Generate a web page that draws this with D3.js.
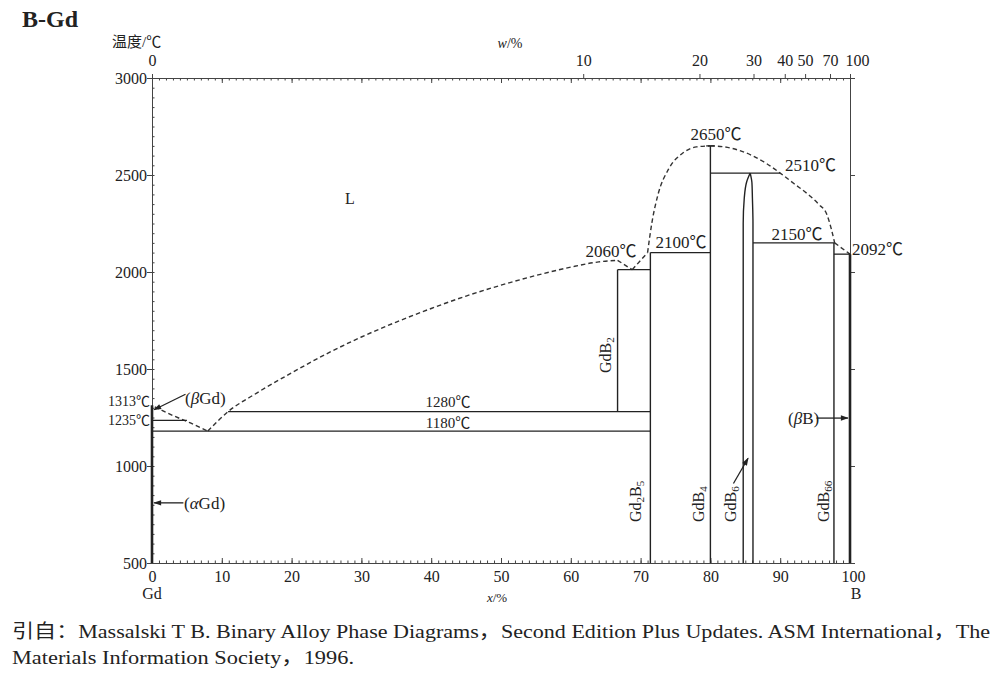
<!DOCTYPE html>
<html><head><meta charset="utf-8">
<script src="https://cdn.jsdelivr.net/npm/d3@7"></script>
<style>
body{margin:0;background:#fff;}
text{font-family:"Liberation Serif","Times New Roman",serif;fill:#222;}
</style></head>
<body><svg id="c" width="1000" height="675"></svg>
<script>
// ---------- data ----------
const atTicksMajor = [0,10,20,30,40,50,60,70,80,90,100];
const tempTicks = [500,1000,1500,2000,2500,3000];
const wtTicks = [0,10,20,30,40,50,70,100];
const M_B = 10.81, M_Gd = 157.25;

// liquidus branches [x at.% B, T °C]
const liqGdSide = [[0.4,1305],[3,1260],[5.5,1222],[8,1180]];
const liqGdB2 = [[8,1180],[10.9,1280],[15,1376],[20,1480],[25,1578],[30,1665],[35,1742],[40,1812],[45,1876],[50,1932],[55,1982],[60,2025],[64,2052],[66.7,2060]];
const liqEut = [[66.7,2060],[68.8,2012]];
const liqGd2B5 = [[68.8,2012],[71.0,2100]];
const liqGdB4L = [[71.0,2100],[71.6,2250],[72.5,2400],[74,2530],[76,2612],[78,2645],[80,2650]];
const liqGdB4R = [[80,2650],[82,2645],[84,2628],[86,2600],[88,2560],[90,2510],[92,2455],[94,2400],[95.5,2350],[96.7,2295],[97.3,2225],[97.8,2150]];
const liqB = [[97.8,2150],[100,2092]];

// invariant horizontals [x1,x2,T]
const horizontals = [[0,5,1235],[10.9,71.4,1280],[0,71.4,1180],[66.7,71.4,2012],[71.4,80,2100],[80,90,2510],[86.1,97.8,2150],[97.7,100,2092],[79.4,80.6,2650]];
// compounds [x, Tbottom, Ttop]
const compounds = [[66.7,1280,2012],[71.4,500,2100],[80,500,2650],[97.7,500,2150]];
const gdb6Left = [[84.7,500],[84.7,2250],[84.85,2380],[85.2,2465],[85.7,2510]];
const gdb6Right = [[86.1,500],[86.1,2250],[86.02,2380],[85.95,2460],[85.7,2510]];
const thickGd = [[0,500],[0,1313]];
const thickB = [[100,500],[100,2092]];

// ---------- scales ----------
const svg = d3.select("#c");
const x = d3.scaleLinear().domain([0,100]).range([152,850]);
const y = d3.scaleLinear().domain([500,3000]).range([563,78]);
const wtToAt = w => { if (w>=100) return 100; const a=w/M_B, b=(100-w)/M_Gd; return 100*a/(a+b); };
const line = d3.line().x(d=>x(d[0])).y(d=>y(d[1]));
const smoothX = d3.line().x(d=>x(d[0])).y(d=>y(d[1])).curve(d3.curveMonotoneX);
const smoothY = d3.line().x(d=>x(d[0])).y(d=>y(d[1])).curve(d3.curveMonotoneY);
const ink = "#222";
const SERIF = "Liberation Serif, Times New Roman, serif";
const CJK = "Noto Sans CJK SC, sans-serif";

// ---------- axes ----------
const gB = svg.append("g").attr("transform",`translate(0,${y(500)})`);
gB.call(d3.axisBottom(x).tickValues(d3.range(0,101,1)).tickSize(-2.5).tickFormat(""));
gB.call(g=>g.select(".domain").remove());
svg.append("g").attr("transform",`translate(0,${y(500)})`)
  .call(d3.axisBottom(x).tickValues(atTicksMajor).tickSizeInner(-5).tickSizeOuter(0).tickPadding(8).tickFormat(d3.format("d")))
  .call(g=>g.selectAll(".tick text").attr("dx",d=>d===100?3:0));
const gT = svg.append("g").attr("transform",`translate(0,${y(3000)})`);
gT.call(d3.axisTop(x).tickValues(d3.range(0,101,1)).tickSize(-2.5).tickFormat(""));
gT.call(g=>g.select(".domain").remove());
svg.append("g").attr("transform",`translate(0,${y(3000)})`)
  .call(d3.axisTop(x).tickValues(atTicksMajor).tickSizeInner(-5).tickSizeOuter(0).tickFormat(""));
svg.append("g").attr("transform",`translate(0,${y(3000)})`)
  .call(d3.axisTop(x).tickValues(wtTicks.map(wtToAt)).tickSizeInner(4).tickSizeOuter(0).tickPadding(8).tickFormat((d,i)=>wtTicks[i]))
  .call(g=>g.select(".domain").remove())
  .call(g=>g.selectAll(".tick text").attr("dx",(d,i)=>wtTicks[i]===100?7:0));
const gL = svg.append("g").attr("transform",`translate(${x(0)},0)`);
gL.call(d3.axisRight(y).tickValues(d3.range(500,3001,50)).tickSize(2.5).tickFormat(""));
gL.call(g=>g.select(".domain").remove());
svg.append("g").attr("transform",`translate(${x(0)},0)`)
  .call(d3.axisLeft(y).tickValues(tempTicks).tickSizeInner(5).tickSizeOuter(0).tickPadding(0).tickFormat(d3.format("d")));
const gR = svg.append("g").attr("transform",`translate(${x(100)},0)`);
gR.call(d3.axisRight(y).tickValues(d3.range(500,3001,50)).tickSize(3).tickFormat(""));
gR.call(d3.axisRight(y).tickValues(tempTicks).tickSizeInner(5).tickSizeOuter(0).tickFormat(""));
svg.selectAll(".tick text").style("font-size","16px").style("font-family",SERIF).attr("fill",ink);
svg.selectAll(".domain,.tick line").attr("stroke","#444").attr("stroke-width",1);

// ---------- phase lines ----------
const dash = {stroke:"#333","stroke-width":1.4,"stroke-dasharray":"4.5,3",fill:"none"};
function dpath(data,gen){const p=svg.append("path").attr("d",gen(data));for(const k in dash)p.attr(k,dash[k]);return p;}
dpath(liqGdSide,line);
dpath(liqGdB2,smoothX);
dpath(liqEut,line);
dpath(liqGd2B5,line);
dpath(liqGdB4L,smoothX);
dpath(liqGdB4R,smoothX);
dpath(liqB,line);

horizontals.forEach(h=>svg.append("line").attr("x1",x(h[0])).attr("x2",x(h[1])).attr("y1",y(h[2])).attr("y2",y(h[2])).attr("stroke",ink).attr("stroke-width",1.3));
compounds.forEach(c=>svg.append("line").attr("x1",x(c[0])).attr("x2",x(c[0])).attr("y1",y(c[1])).attr("y2",y(c[2])).attr("stroke",ink).attr("stroke-width",1.4));
[gdb6Left,gdb6Right].forEach(d=>svg.append("path").attr("d",smoothY(d)).attr("fill","none").attr("stroke",ink).attr("stroke-width",1.4));
[thickGd,thickB].forEach(d=>svg.append("path").attr("d",line(d)).attr("stroke",ink).attr("stroke-width",2.6));

// ---------- arrows ----------
svg.append("defs").append("marker").attr("id","ah").attr("viewBox","0 0 10 10").attr("refX",9).attr("refY",5)
  .attr("markerWidth",9).attr("markerHeight",6).attr("orient","auto-start-reverse")
  .append("path").attr("d","M0,1.5 L10,5 L0,8.5 Z").attr("fill",ink);
function arrow(x1,y1,x2,y2){svg.append("line").attr("x1",x1).attr("y1",y1).attr("x2",x2).attr("y2",y2).attr("stroke",ink).attr("stroke-width",1.3).attr("marker-end","url(#ah)");}
arrow(x(4.8),y(1370),x(0.3),y(1290));
arrow(x(4.5),y(810),x(0.3),y(810));
arrow(x(95.2),y(1247),x(99.7),y(1247));
arrow(x(83.3),y(910),x(85.4),y(1040));

// ---------- text ----------
function addRuns(sel,str){
  const re=/([\u2000-\uffff]+)|([^\u2000-\uffff]+)/g; let m;
  while((m=re.exec(str))) sel.append("tspan").text(m[0]).style("font-family",m[1]?CJK:SERIF);
}
function t(str,px,py,opt={}){
  const e=svg.append("text").attr("x",px).attr("y",py).style("font-size",(opt.size||17)+"px").attr("text-anchor",opt.anchor||"start");
  addRuns(e,str);
  if(opt.weight)e.style("font-weight",opt.weight);
  if(opt.len)e.attr("textLength",opt.len).attr("lengthAdjust","spacingAndGlyphs");
  return e;
}
function rich(parts,px,py,opt={}){
  const e=svg.append("text").attr("x",px).attr("y",py).style("font-size",(opt.size||17)+"px").attr("text-anchor",opt.anchor||"start").style("font-family",SERIF);
  if(opt.rot)e.attr("transform",`rotate(-90,${px},${py})`);
  parts.forEach(p=>{const s=e.append("tspan").text(p[0]);
    if(p[1]==="i")s.style("font-style","italic");
    if(p[1]==="sub")s.attr("baseline-shift","-25%").style("font-size","11px");
  });
  return e;
}
t("B-Gd",22,27,{size:24,weight:"bold"});
t("温度/℃",112,47,{size:15});
rich([["w","i"],["/%"]],510,48,{size:14,anchor:"middle"});
rich([["x","i"],["/%"]],497,602,{size:13,anchor:"middle"});
t("Gd",152,599,{size:16,anchor:"middle"});
t("B",856,599,{size:16,anchor:"middle"});
t("L",345,204,{size:16});
t("1313℃",150,406,{size:14,anchor:"end"});
t("1235℃",150,425,{size:14,anchor:"end"});
rich([["("],["β","i"],["Gd)"]],185,404);
rich([["("],["α","i"],["Gd)"]],184,509);
rich([["("],["β","i"],["B)"]],788,424);
t("1280℃",448,407,{size:15,anchor:"middle"});
t("1180℃",448,428,{size:15,anchor:"middle"});
t("2060℃",611,257,{anchor:"middle"});
t("2100℃",681,248,{anchor:"middle"});
t("2650℃",716,140,{anchor:"middle"});
t("2510℃",785,171);
t("2150℃",797,240,{anchor:"middle"});
t("2092℃",852,255);
rich([["GdB"],["2","sub"]],611,373,{size:16,rot:true});
rich([["Gd"],["2","sub"],["B"],["5","sub"]],641,522,{size:16,rot:true});
rich([["GdB"],["4","sub"]],704,522,{size:16,rot:true});
rich([["GdB"],["6","sub"]],736,522,{size:16,rot:true});
rich([["GdB"],["66","sub"]],829,522,{size:16,rot:true});
t("引自：Massalski T B. Binary Alloy Phase Diagrams，Second Edition Plus Updates. ASM International，The",12,638,{size:19,len:978});
t("Materials Information Society，1996.",12,664,{size:19,len:342});
</script></body></html>
